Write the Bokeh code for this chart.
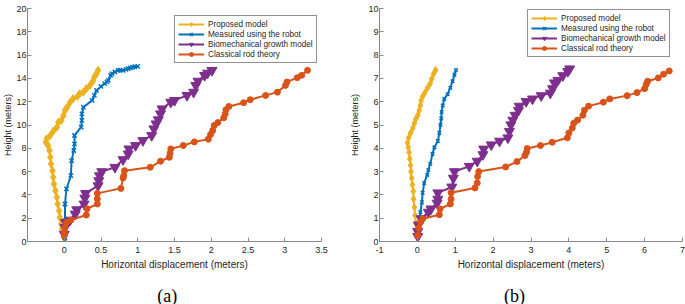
from bokeh.plotting import figure
from bokeh.layouts import row, column
from bokeh.models import Range1d, FixedTicker, NumeralTickFormatter, Legend, LegendItem
from bokeh.core.properties import value
from bokeh.embed import file_html
from bokeh.resources import INLINE

# ---------------- data: panel (a) ----------------
a_prop_x = [0.00, -0.01, -0.03, -0.04, -0.06, -0.07, -0.09, -0.10, -0.12, -0.14, -0.15, -0.16, -0.18, -0.19, -0.20,
            -0.22, -0.25, -0.24, -0.19, -0.15, -0.10, -0.08, -0.04, -0.01, 0.01, 0.04, 0.08, 0.12, 0.18, 0.21,
            0.26, 0.30, 0.35, 0.39, 0.41, 0.44, 0.46]
a_prop_y = [0.30, 0.64, 1.07, 1.50, 2.07, 2.64, 3.22, 3.79, 4.36, 4.94, 5.51, 6.08, 6.66, 7.23, 7.81,
            8.24, 8.52, 8.81, 9.10, 9.47, 9.81, 10.24, 10.39, 10.82, 11.25, 11.53, 11.96, 12.25, 12.45, 12.68,
            12.82, 13.12, 13.40, 13.77, 14.12, 14.40, 14.69]
a_meas_x = [0.01, 0.01, 0.01, 0.01, 0.03, 0.09, 0.10, 0.13, 0.14, 0.14, 0.23, 0.24, 0.24, 0.26, 0.38, 0.41, 0.44,
            0.50, 0.55, 0.58, 0.60, 0.63, 0.65, 0.69, 0.73, 0.76, 0.80, 0.84, 0.87, 0.90, 0.93, 0.96, 1.00]
a_meas_y = [0.06, 1.05, 1.78, 3.22, 4.51, 5.65, 6.94, 7.81, 8.38, 9.10, 9.81, 10.39, 10.96, 11.53, 12.11, 12.54, 12.97,
            13.31, 13.55, 13.70, 13.83, 14.26, 14.40, 14.55, 14.69, 14.70, 14.69, 14.78, 14.84, 14.90, 14.97, 15.00, 15.03]
a_bio_x = [0.00, 0.01, 0.02, 0.08, 0.15, 0.17, 0.27, 0.28, 0.29, 0.46, 0.47, 0.48, 0.51, 0.69, 0.80, 0.87, 0.88,
           0.97, 1.07, 1.19, 1.22, 1.25, 1.28, 1.31, 1.33, 1.45, 1.50, 1.67, 1.76, 1.79, 1.82, 1.91, 1.95, 2.01]
a_bio_y = [0.63, 1.20, 1.64, 1.84, 2.36, 2.73, 3.22, 3.73, 4.13, 4.79, 5.22, 5.65, 6.00, 6.37, 7.03, 7.52, 7.95,
           8.24, 8.67, 9.10, 9.67, 10.10, 10.45, 10.96, 11.39, 11.96, 12.11, 12.54, 12.82, 13.40, 13.77, 14.26, 14.46, 14.69]
a_rod_x = [0.00, 0.00, 0.01, 0.03, 0.09, 0.30, 0.31, 0.45, 0.45, 0.45, 0.77, 0.80, 0.81, 0.82, 1.17, 1.31, 1.43,
           1.44, 1.45, 1.62, 1.77, 1.96, 1.99, 2.02, 2.04, 2.09, 2.17, 2.19, 2.20, 2.24, 2.44, 2.53, 2.74, 2.90,
           3.01, 3.03, 3.17, 3.23, 3.31]
a_rod_y = [0.49, 0.77, 1.20, 1.64, 1.84, 2.27, 2.81, 3.22, 3.65, 4.13, 4.56, 5.45, 5.65, 6.08, 6.37, 6.89, 7.23,
           7.58, 7.95, 8.24, 8.55, 8.78, 9.18, 9.53, 9.96, 10.21, 10.62, 10.96, 11.31, 11.59, 11.91, 12.17, 12.54, 12.82,
           13.40, 13.69, 14.06, 14.26, 14.69]

# ---------------- data: panel (b) ----------------
b_prop_x = [0.00, -0.02, -0.04, -0.06, -0.08, -0.10, -0.11, -0.13, -0.15, -0.17, -0.18, -0.20, -0.22, -0.24, -0.26,
            -0.23, -0.18, -0.12, -0.08, -0.04, 0.01, 0.05, 0.08, 0.10, 0.14, 0.20, 0.27, 0.34, 0.38, 0.43, 0.48]
b_prop_y = [0.22, 0.43, 0.78, 1.12, 1.47, 1.82, 2.16, 2.44, 2.72, 3.00, 3.27, 3.55, 3.83, 4.04, 4.24,
            4.45, 4.66, 4.87, 5.08, 5.26, 5.42, 5.63, 5.84, 6.05, 6.23, 6.39, 6.60, 6.78, 6.98, 7.20, 7.36]
b_meas_x = [0.01, 0.03, 0.05, 0.08, 0.12, 0.14, 0.18, 0.26, 0.29, 0.34, 0.40, 0.45, 0.54, 0.58, 0.61, 0.63, 0.64,
            0.67, 0.71, 0.80, 0.87, 0.93, 0.98, 1.02]
b_meas_y = [0.22, 0.57, 0.92, 1.26, 1.68, 2.09, 2.51, 2.86, 3.07, 3.34, 3.76, 4.04, 4.31, 4.66, 5.01, 5.28, 5.56,
            5.84, 6.12, 6.32, 6.60, 6.88, 7.16, 7.36]
b_bio_x = [0.01, 0.01, 0.03, 0.10, 0.29, 0.36, 0.52, 0.54, 0.54, 0.91, 0.95, 0.98, 1.37, 1.58, 1.73, 1.75, 1.95,
           2.17, 2.39, 2.43, 2.47, 2.52, 2.58, 2.67, 2.69, 2.87, 3.04, 3.27, 3.51, 3.57, 3.62, 3.71, 3.84, 3.97, 4.02]
b_bio_y = [0.22, 0.43, 0.71, 0.98, 1.26, 1.40, 1.65, 1.82, 2.09, 2.34, 2.72, 3.00, 3.23, 3.45, 3.73, 3.97, 4.15,
           4.31, 4.45, 4.73, 5.01, 5.21, 5.42, 5.63, 5.81, 6.01, 6.12, 6.26, 6.37, 6.56, 6.81, 6.92, 7.12, 7.30, 7.41]
b_rod_x = [0.01, 0.03, 0.08, 0.14, 0.58, 0.60, 0.87, 0.89, 0.89, 1.52, 1.58, 1.59, 1.62, 2.33, 2.63, 2.84, 2.88,
           2.90, 3.25, 3.56, 3.96, 4.00, 4.09, 4.13, 4.23, 4.37, 4.41, 4.52, 4.91, 5.08, 5.54, 5.80, 6.00, 6.04,
           6.08, 6.36, 6.50, 6.65]
b_rod_y = [0.26, 0.57, 0.82, 0.98, 1.15, 1.40, 1.61, 1.82, 2.09, 2.30, 2.51, 2.79, 3.00, 3.20, 3.43, 3.69, 3.83,
           3.99, 4.12, 4.26, 4.45, 4.66, 4.87, 5.08, 5.21, 5.42, 5.63, 5.81, 5.98, 6.12, 6.26, 6.39, 6.56, 6.74,
           6.88, 7.02, 7.18, 7.32]

series_names = ["Proposed model", "Measured using the robot", "Biomechanical growth model", "Classical rod theory"]
a_xticks = [0, 0.5, 1, 1.5, 2, 2.5, 3, 3.5]
a_yticks = [0, 2, 4, 6, 8, 10, 12, 14, 16, 18, 20]
b_xticks = [-1, 0, 1, 2, 3, 4, 5, 6, 7]
b_yticks = [0, 1, 2, 3, 4, 5, 6, 7, 8, 9, 10]
x_label = "Horizontal displacement (meters)"
y_label = "Height (meters)"
captions = ["(a)", "(b)"]

COLORS = ["#EDB120", "#0072BD", "#7E2F8E", "#D95319"]
MARKERS = ["diamond", "x", "inverted_triangle", "circle"]
SANS = "Liberation Sans"
TEXT = "#262626"
AXIS = "#8a8a8a"
MAIN_H = 280
CAP_H = 24


def panel(width, xr, yr, xticks, yticks, borders, data, msizes, legend_xy, ylab_standoff):
    p = figure(width=width, height=MAIN_H, output_backend="svg", toolbar_location=None,
               x_range=Range1d(*xr), y_range=Range1d(*yr),
               min_border_left=borders[0], min_border_right=borders[1],
               min_border_top=borders[2], min_border_bottom=borders[3])
    p.outline_line_color = None
    p.grid.visible = False
    p.background_fill_color = "white"
    p.border_fill_color = "white"
    items = []
    for i, (xs, ys) in enumerate(data):
        l = p.line(xs, ys, line_color=COLORS[i], line_width=2)
        s = p.scatter(xs, ys, marker=MARKERS[i], size=msizes[i], line_color=COLORS[i],
                      fill_color=COLORS[i], line_width=1.5 if MARKERS[i] == "x" else 1)
        items.append(LegendItem(label=series_names[i], renderers=[l, s]))
    leg = Legend(items=items, location=legend_xy, label_text_font=SANS, label_text_font_size="8.2px",
                 label_text_color=TEXT, glyph_width=26, glyph_height=10, label_height=10,
                 label_standoff=4, spacing=0, padding=3, margin=0,
                 border_line_color=TEXT, border_line_width=0.8, background_fill_alpha=1)
    p.add_layout(leg)
    p.xaxis.ticker = FixedTicker(ticks=xticks)
    p.yaxis.ticker = FixedTicker(ticks=yticks)
    p.xaxis.formatter = NumeralTickFormatter(format="0.[0]")
    p.yaxis.formatter = NumeralTickFormatter(format="0")
    for ax in (p.xaxis[0], p.yaxis[0]):
        ax.axis_line_color = AXIS
        ax.axis_line_width = 1
        ax.major_tick_line_color = AXIS
        ax.major_tick_in = 4
        ax.major_tick_out = 0
        ax.minor_tick_in = 0
        ax.minor_tick_out = 0
        ax.minor_tick_line_color = None
        ax.major_label_text_font = SANS
        ax.major_label_text_font_size = "9px"
        ax.major_label_text_color = TEXT
        ax.axis_label_text_font = SANS
        ax.axis_label_text_font_style = "normal"
        ax.axis_label_text_color = TEXT
    p.xaxis.axis_label = x_label
    p.yaxis.axis_label = y_label
    p.xaxis.axis_label_text_font_size = "10px"
    p.yaxis.axis_label_text_font_size = "9px"
    p.xaxis.major_label_standoff = 5
    p.xaxis.axis_label_standoff = 3
    p.yaxis.major_label_standoff = 1
    p.yaxis.axis_label_standoff = ylab_standoff
    return p


def caption_fig(width, text, cx):
    c = figure(width=width, height=CAP_H, output_backend="svg", toolbar_location=None,
               x_range=Range1d(0, width), y_range=Range1d(0, CAP_H),
               min_border_left=0, min_border_right=0, min_border_top=0, min_border_bottom=0)
    c.axis.visible = False
    c.grid.visible = False
    c.outline_line_color = None
    c.text(x=[cx], y=[9], text=[text], text_align="center", text_baseline="middle",
           text_font=value("Liberation Serif"), text_font_size="18px", text_color="black")
    return c


p1 = panel(340, (-0.5, 3.5), (0, 20), a_xticks, a_yticks, (27, 19, 8, MAIN_H - 241),
           [(a_prop_x, a_prop_y), (a_meas_x, a_meas_y), (a_bio_x, a_bio_y), (a_rod_x, a_rod_y)],
           [8, 6, 10, 6], (147, 178), 0)
p2 = panel(345, (-1, 7), (0, 10), b_xticks, b_yticks, (39, 3, 3, MAIN_H - 243),
           [(b_prop_x, b_prop_y), (b_meas_x, b_meas_y), (b_bio_x, b_bio_y), (b_rod_x, b_rod_y)],
           [7, 5, 10, 6], (148, 184), 5)
c1 = caption_fig(340, captions[0], 166.7)
c2 = caption_fig(345, captions[1], 174)

layout = column(row(p1, p2), row(c1, c2))
open("out.html", "w").write(file_html(layout, INLINE))
